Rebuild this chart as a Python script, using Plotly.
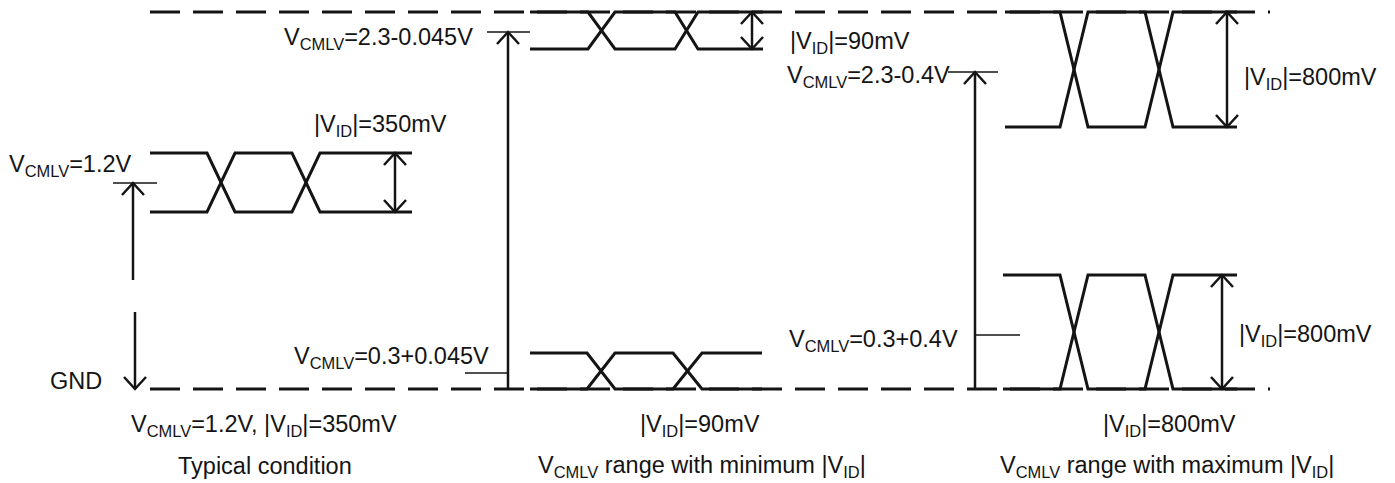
import plotly.graph_objects as go

W, H = 1395, 483

# ---- diagram data (diagram units: x and y in px of the drawing, y downward) ----
# eye diagrams: typical, min-VID top, min-VID bottom, max-VID top, max-VID bottom
eye_x_start = [150, 530, 530, 1005, 1003]
eye_x_end = [412, 763, 762, 1237, 1237]
eye_y_high = [153, 12, 353, 12, 275]
eye_y_low = [212, 49, 389, 127, 389]
eye_t1_start = [207, 588, 587, 1060, 1060]
eye_t1_end = [235, 615, 615, 1088, 1088]
eye_t2_start = [292, 675, 673, 1145, 1145]
eye_t2_end = [320, 698, 702, 1173, 1173]

# |VID| double-headed arrows (x, and which eye they span)
vid_arrow_x = [395, 752, 1227, 1222]
vid_arrow_eye = [0, 1, 3, 4]

# VCMLV level ticks
cm_tick_y = [183, 32, 373, 72, 335]
cm_tick_x0 = [113, 487, 465, 948, 975]
cm_tick_x1 = [157, 530, 508, 998, 1020]

# VCMLV arrows: from y0 to y1, head at y1
cm_arrow_x = [133, 135, 508, 975]
cm_arrow_y0 = [280, 312, 390, 390]
cm_arrow_y1 = [183, 389, 32, 72]
cm_arrow_head = [True, True, True, True]

# dashed rails: 2.3 V (top) and GND (bottom)
rail_y = [12, 389]
rail_x = [150, 1270]

# text labels
label_text = [
    "V<sub>CMLV</sub>=1.2V",
    "|V<sub>ID</sub>|=350mV",
    "V<sub>CMLV</sub>=2.3-0.045V",
    "|V<sub>ID</sub>|=90mV",
    "V<sub>CMLV</sub>=2.3-0.4V",
    "|V<sub>ID</sub>|=800mV",
    "V<sub>CMLV</sub>=0.3+0.045V",
    "GND",
    "V<sub>CMLV</sub>=0.3+0.4V",
    "|V<sub>ID</sub>|=800mV",
    "V<sub>CMLV</sub>=1.2V, |V<sub>ID</sub>|=350mV",
    "|V<sub>ID</sub>|=90mV",
    "|V<sub>ID</sub>|=800mV",
    "Typical condition",
    "V<sub>CMLV</sub> range with minimum |V<sub>ID</sub>|",
    "V<sub>CMLV</sub> range with maximum |V<sub>ID</sub>|",
]
label_x = [7, 312, 282, 788, 785, 1242, 292, 48, 787, 1237, 264, 700, 1169, 265, 702, 1167]
label_y = [165, 125, 38, 42, 76, 78, 357, 381, 340, 335, 425, 425, 425, 466, 466, 466]
label_anchor = ["left"] * 10 + ["center"] * 6

INK = "#141414"
FONT = "Liberation Sans, Arial, sans-serif"
FS = 23.5

fig = go.Figure()


def add_path(xs, ys, width, dash="solid"):
    fig.add_trace(go.Scatter(x=xs, y=ys, mode="lines",
                             line=dict(color=INK, width=width, dash=dash),
                             hoverinfo="skip", showlegend=False))


# rails
for ry in rail_y:
    add_path(rail_x, [ry, ry], 3, dash="30px,13px")

# eye diagrams (two complementary traces each)
for i in range(len(eye_x_start)):
    xs = [eye_x_start[i], eye_t1_start[i], eye_t1_end[i], eye_t2_start[i], eye_t2_end[i], eye_x_end[i]]
    hi, lo = eye_y_high[i], eye_y_low[i]
    add_path(xs, [hi, hi, lo, lo, hi, hi], 3)
    add_path(xs, [lo, lo, hi, hi, lo, lo], 3)

AW, AH = 11, 12  # arrowhead half-width and depth


def head(x, y, direction):
    # direction -1 => pointing up, +1 => pointing down
    add_path([x - AW, x, x + AW], [y - direction * AH, y, y - direction * AH], 2.5)


# |VID| arrows
for ax, e in zip(vid_arrow_x, vid_arrow_eye):
    top, bot = eye_y_high[e], eye_y_low[e]
    add_path([ax, ax], [top, bot], 2.5)
    head(ax, top, -1)
    head(ax, bot, 1)

# VCMLV ticks
for y, x0, x1 in zip(cm_tick_y, cm_tick_x0, cm_tick_x1):
    add_path([x0, x1], [y, y], 1.6)

# VCMLV arrows
for ax, y0, y1, hd in zip(cm_arrow_x, cm_arrow_y0, cm_arrow_y1, cm_arrow_head):
    add_path([ax, ax], [y0, y1], 2.5)
    if hd:
        head(ax, y1, -1 if y1 < y0 else 1)

# labels
for t, x, y, a in zip(label_text, label_x, label_y, label_anchor):
    fig.add_annotation(x=x, y=y, text=t, showarrow=False, xanchor=a, yanchor="middle",
                       font=dict(family=FONT, size=FS, color=INK))

fig.update_layout(
    width=W, height=H,
    margin=dict(l=0, r=0, t=0, b=0),
    paper_bgcolor="white", plot_bgcolor="white",
    xaxis=dict(range=[0, W], visible=False, fixedrange=True),
    yaxis=dict(range=[H, 0], visible=False, fixedrange=True),
    showlegend=False,
)

fig.write_html("out.html",
               config={"displayModeBar": False, "staticPlot": True},
               post_script="document.body.style.margin='0';document.body.style.overflow='hidden';")
